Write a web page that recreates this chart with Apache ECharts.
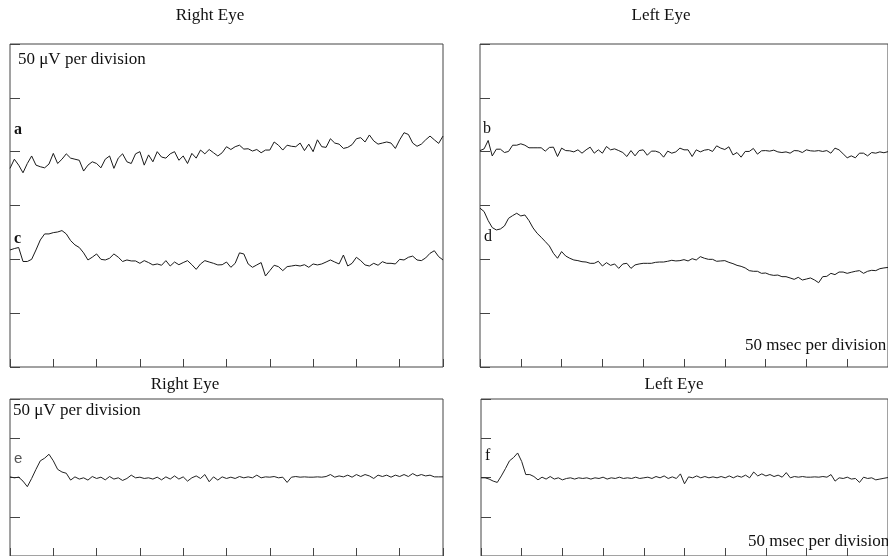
<!DOCTYPE html>
<html>
<head>
<meta charset="utf-8">
<title>Right Eye / Left Eye</title>
<script src="https://cdn.jsdelivr.net/npm/echarts@6/dist/echarts.min.js"></script>
<style>
html, body { margin: 0; padding: 0; background: #fff; }
#chart { width: 888px; height: 556px; }
</style>
</head>
<body>
<div id="chart"></div>
<script>
// sampling step of the traces, msec
var STEP_MS = 5;

// traces in µV, one sample every 5 msec from 0 to 500 msec
var traceA = [184.5,193,187.5,180.4,189,196,187.5,186,185,188.5,
	198.4,189,193,198,194,193,192,182,187.5,190.6,
	189,185,193,196,184.5,194,198,190.6,189,198,
	200,187.5,197,190.6,200,195,194,198,200,192,
	196,189,198.4,194,201.5,198,202,199,196,199,
	204.6,202,204.6,206,202.4,202.7,200.6,202,199,201.5,
	201.5,209,206,201.5,206,205,204.6,208,201,207,
	200,211,204.6,204,212,208,207,203,204,206.5,
	212,213,209,215.5,210,207,208,209,208,203,
	211,217.6,216,208,205,207,211,214.5,211,207.7,
	214.5];

var traceC = [108.7,110,111,98,98,100,108.7,118,123.6,123.6,
	124.8,125.4,126.7,123.6,117.4,113.4,111,106,99.4,102,
	105,100,99.4,101,105,102,98,99.4,98.5,98.5,
	96.3,98.8,97,94.8,95.7,94.5,98.8,93.8,97.5,95,
	97,98.8,95,90.7,95.7,98.8,97.5,96.3,94.8,95,
	97.5,92.6,96.3,106,105,95.7,92.6,94.8,97,84.5,
	89.5,94.5,93.2,89.5,93.2,93.8,94.5,93.8,95,92.6,
	95.7,94.8,95.7,97.5,99.4,97.5,95.7,104,93.8,96.3,
	101.9,98.8,94.8,93.8,96.3,94.5,97.8,96.3,96.3,95.7,
	100,99.4,101.9,103,99.4,98.8,101.3,105.6,108,102.5,
	99.4];

var traceB = [201,202.6,210.4,196,202.3,202.3,199.2,200.2,206,206,
	207.3,206,203.6,203.6,203.6,203.6,200.5,203.9,204.2,195.5,
	203.3,201,200.8,199.8,201.7,198.6,201.7,204.2,198.6,201.7,
	198.6,204.8,201.7,202.6,201,199.2,195.5,201,196.1,201,
	201.7,196.7,200.5,200.5,199.2,194.9,200.5,198.6,199.8,203.3,
	201.7,201.7,195.5,201.7,199.8,201.4,202,200.2,205.4,203.3,
	202,204.5,197,199.2,194.9,200.2,200.2,203,197.7,200.8,
	201,200.5,201.4,199.8,199.2,199.8,198.6,201,200.8,199.2,
	201.7,200.8,200.5,201,200.2,201,198.6,203.3,201.7,198,
	194.3,196.1,194.3,198.6,198.6,196.1,199.2,198.6,199.8,199,
	200];

var traceD = [147.5,144.4,136,129.5,127.3,128.2,131,138.1,140.6,142.8,
	140.3,141.2,136,129.2,124.2,120.5,116.5,112.4,105.6,101,
	107.2,103.1,101,99.4,98.8,97.8,97.5,96.3,96.3,98.2,
	93.8,96.9,94.4,95.7,91.6,95.7,96.3,91.6,94.8,95.7,
	96.3,96.3,96.3,97.2,97.5,97.5,98.2,99.1,98.5,98.8,
	99.7,98.5,100.6,99.4,102.5,101,100,100,98.2,98.5,
	98.8,97.2,96,94.4,93.5,92,89.5,88.9,88.9,87,
	87.3,85.8,85.1,85.4,83.9,83.9,82.7,81.4,83.3,80.8,
	81.7,82.7,80.8,78.3,83.9,84.2,87,85.8,88.2,88.2,
	87,88,88.9,89.5,87,88.9,89.8,89.5,91.3,92,
	92.5];

var traceE = [100.8,99.6,100.4,95.4,88.3,98.75,110.4,121.25,124.6,129.6,
	121.25,110.4,107,105.4,96.7,100.8,98,99.6,96.7,101.25,
	98.75,100.4,97,101.25,98,99.6,96.25,98.75,103,99.6,
	100.4,98.75,99.6,98,100.4,97,100.8,98,102,98,
	100.8,95.4,99.6,102,98.75,103.75,94.6,100.8,96.7,100.8,
	98.75,100.4,98.75,101.25,99.6,100.8,99.6,103,99.6,100.8,
	100.4,101.25,99.6,100.4,93.75,100.4,101.25,100.4,100.8,100.4,
	100.4,100.8,100.4,101.25,103.75,100.4,102,100.8,103,100.4,
	103.75,101.25,103.75,102,98.75,103,101.25,103,100.4,103,
	101.25,103.75,101.25,105,102,103.75,102,103,100.8,100.8,
	100.8];

var traceF = [99.6,99.6,98,95.4,93.75,102,111.25,121.25,125.4,131.25,
	120.4,103.75,103.75,101.25,97,100.4,98,101.25,98,99.6,
	97,98.75,99.6,98,99.6,98.75,99.6,98,99.6,98.75,
	100.4,98,99.6,98.75,100.4,98.75,99.6,98.75,100.4,98.75,
	99.6,100.4,98.75,101.25,99.6,102,98.75,100.8,98.75,104.6,
	92,100.8,99.6,102,99.6,101.25,99.6,100.8,99.6,101.25,
	99.6,102,99.6,102,100.4,103,99.6,107,102,104.6,
	102,103.75,101.25,103,100.4,106.25,99.6,101.25,100.4,101.25,
	100.4,100.4,100.8,100.4,101.25,100.4,103.75,95.4,99.6,98.75,
	100.4,98,98.75,93.75,100.4,98.75,99.6,97,98,99,
	100];

var mychart = echarts.init(document.getElementById('chart'));

var serif = '"Liberation Serif", "Times New Roman", serif';
var edge = '#444';

function pairs(arr) {
	return arr.map(function(v, i) { return [i * STEP_MS, v]; });
}

function xAxisFor(idx) {
	return {
		type : 'value',
		gridIndex : idx,
		min : 0,
		max : 500,
		interval : 50,
		axisLine : { show : false },
		axisTick : { show : true, inside : true, length : 8, lineStyle : { color : edge } },
		axisLabel : { show : false },
		splitLine : { show : false }
	};
}

function yAxisFor(idx, max) {
	return {
		type : 'value',
		gridIndex : idx,
		min : 0,
		max : max,
		interval : 50,
		axisLine : { show : false },
		axisTick : { show : true, inside : true, length : 10, lineStyle : { color : edge } },
		axisLabel : { show : false },
		splitLine : { show : false }
	};
}

function trace(data, idx, color) {
	return {
		type : 'line',
		xAxisIndex : idx,
		yAxisIndex : idx,
		data : pairs(data),
		showSymbol : false,
		smooth : false,
		lineStyle : { color : color, width : 1 },
		emphasis : { disabled : true }
	};
}

function label(text, x, y, size, extra) {
	var style = {
		text : text,
		x : x,
		y : y,
		font : size + 'px ' + serif,
		fill : '#111',
		textAlign : 'left',
		textVerticalAlign : 'middle'
	};
	for (var k in extra) style[k] = extra[k];
	return { type : 'text', silent : true, style : style };
}

var box = { show : true, borderColor : edge, borderWidth : 1, backgroundColor : '#fff' };

var option = {
	animation : false,
	backgroundColor : '#fff',
	grid : [
		Object.assign({ left : 10, top : 44, width : 433, height : 323 }, box),
		Object.assign({ left : 480, top : 44, width : 415, height : 323 }, box),
		Object.assign({ left : 10, top : 399, width : 433, height : 160 }, box),
		Object.assign({ left : 481, top : 399, width : 415, height : 160 }, box)
	],
	xAxis : [ xAxisFor(0), xAxisFor(1), xAxisFor(2), xAxisFor(3) ],
	yAxis : [ yAxisFor(0, 300), yAxisFor(1, 300), yAxisFor(2, 200), yAxisFor(3, 200) ],
	series : [
		trace(traceA, 0, '#1a1a1a'),
		trace(traceC, 0, '#1a1a1a'),
		trace(traceB, 1, '#1a1a1a'),
		trace(traceD, 1, '#1a1a1a'),
		trace(traceE, 2, '#222'),
		trace(traceF, 3, '#222')
	],
	graphic : [
		label('Right Eye', 210, 16, 17, { textAlign : 'center' }),
		label('Left Eye', 661, 16, 17, { textAlign : 'center' }),
		label('Right Eye', 185, 385, 17, { textAlign : 'center' }),
		label('Left Eye', 674, 385, 17, { textAlign : 'center' }),
		label('50 μV per division', 18, 60, 17),
		label('50 μV per division', 13, 411, 17),
		label('50 msec per division', 745, 346, 17),
		label('50 msec per division', 748, 542, 17),
		label('a', 14, 130, 16, { font : 'bold 16px ' + serif }),
		label('c', 14, 239, 16, { font : 'bold 16px ' + serif }),
		label('b', 483, 129, 16),
		label('d', 484, 237, 16),
		label('e', 14, 459, 15, { font : '15px "Liberation Sans", Arial, sans-serif', fill : '#555' }),
		label('f', 485, 456, 16)
	]
};

mychart.setOption(option);
</script>
</body>
</html>
